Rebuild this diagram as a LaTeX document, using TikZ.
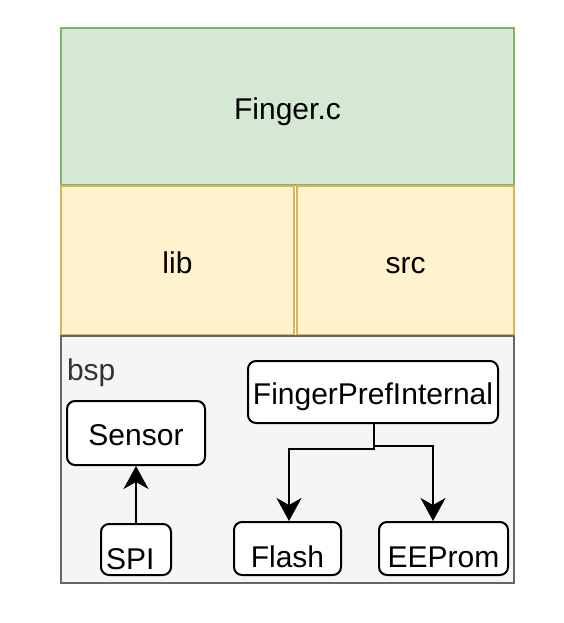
\documentclass[tikz,border=0pt]{standalone}
\usepackage{fontspec}
\setmainfont{Liberation Sans}
\usepackage{tikz}
\usetikzlibrary{arrows.meta}
\definecolor{gfill}{HTML}{D5E8D4}
\definecolor{gdraw}{HTML}{82B366}
\definecolor{yfill}{HTML}{FFF2CC}
\definecolor{ydraw}{HTML}{D6B656}
\definecolor{bfill}{HTML}{F5F5F5}
\definecolor{bdraw}{HTML}{666666}
\definecolor{btext}{HTML}{333333}
\tikzset{
  layer/.style = {rectangle, inner sep=0pt, line width=2pt,
    font=\fontsize{30}{35}\selectfont, text height=26pt, text depth=0pt},
  layer_g/.style = {layer, fill=gfill, draw=gdraw},% finger.c
  layer_y/.style = {layer, fill=yfill, draw=ydraw},% lib, src
  layer_b/.style = {layer, fill=bfill, draw=bdraw},% bsp
  modbox/.style = {rectangle, rounded corners=8pt, draw=black, fill=white,
    line width=2pt, inner sep=0pt, font=\fontsize{30}{35}\selectfont,
    text height=25pt, text depth=0pt},% module
  modtext/.style = {inner sep=0pt, anchor=base,
    font=\fontsize{30}{35}\selectfont},
  tip/.tip = {Stealth[length=23pt,width=25pt,inset=7pt]}
}

\begin{document}
\begin{tikzpicture}[x=1pt,y=-1pt,line width=2pt]
    \useasboundingbox (0,0) rectangle (564,623);
    % layers
    \node [layer_g, minimum width=453pt, minimum height=157pt] (finger) at (287.5,106.5) {Finger.c};
    \node [layer_y, minimum width=233pt, minimum height=149pt] (lib) at (177.5,260.5) {lib};
    \node [layer_y, minimum width=217pt, minimum height=149pt] (src) at (405.5,260.5) {src};
    \node [layer_b, minimum width=453pt, minimum height=247pt] (bsp) at (287.5,459.5) {};
    \node [modtext, anchor=base west, text=btext] (bsptext) at (66,380) {bsp};
    % modules
    \node [modbox, minimum width=138pt, minimum height=64pt] (sensor) at (136,433) {Sensor};
    \node [modbox, minimum width=250pt, minimum height=62pt] (fpi) at (373,392) {FingerPrefInternal};
    \node [modbox, minimum width=70pt, minimum height=51pt] (spi) at (136,549.5) {};
    \node [modbox, minimum width=107pt, minimum height=53pt] (flash) at (287.5,548.5) {};
    \node [modbox, minimum width=129pt, minimum height=53pt] (eeprom) at (443.5,548.5) {};
    \node [modtext, anchor=base west] (spitext) at (105,569) {SPI};
    \node [modtext] (flashtext) at (287.5,567) {Flash};
    \node [modtext] (eepromtext) at (443.5,567) {EEProm};
    % connectors
    \draw [-tip] (spi.north) -- (sensor.south);
    \draw [-tip] ([xshift=1pt]fpi.south) -- ++(0,25) -| ([xshift=1.5pt]flash.north);
    \draw [-tip] ([xshift=1pt]fpi.south) -- ++(0,22) -| ([xshift=-10.5pt]eeprom.north);
\end{tikzpicture}
\end{document}
